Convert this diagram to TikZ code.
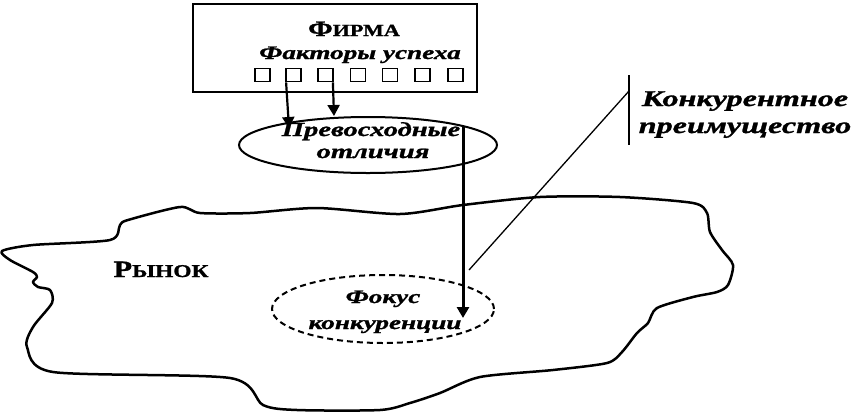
\documentclass[tikz,border=0pt]{standalone}
\usepackage{fontspec}
\setmainfont{Liberation Serif}
\newfontfamily\wideit[FakeStretch=1.43,FakeBold=1.3]{Liberation Serif}
\newfontfamily\widebf[FakeStretch=1.3,FakeBold=1.2]{Liberation Serif}
\usetikzlibrary{arrows.meta,shapes.geometric}
\begin{document}
\begin{tikzpicture}[x=1pt,y=-1pt,
  ital/.style={anchor=base, inner sep=0},
  caps/.style={anchor=base, inner sep=0},
  arr/.style={-{Triangle[length=11pt,width=12pt]}, line width=2.2pt},
  sqbox/.style={draw, line width=1.8pt, minimum width=15pt, minimum height=13pt, inner sep=0},
  ell/.style={ellipse, draw, line width=2pt, inner sep=0}
]
\useasboundingbox (0,0) rectangle (854,416);
\fill[white] (0,0) rectangle (854,416);
% market outline
\draw[line width=2.5pt, line join=round] plot[smooth cycle, tension=0.45] coordinates {
 (2,251) (33,245) (110,240) (120,225) (128,220) (180,207) (200,213) (250,213)
 (317,208) (400,214) (463,205) (540,197) (620,197) (693,203) (707,213) (710,232)
 (722,250) (733,265) (728,285) (717,292) (693,297) (657,308) (648,323) (637,333)
 (622,352) (607,363) (553,370) (480,377) (440,393) (410,403) (380,410) (297,410)
 (263,405) (230,378) (53,372) (27,347) (33,327) (52,303) (50,290) (38,287)
 (33,282) (37,277) (33,272) (10,260)};
% firm box
\node[draw, line width=2.5pt, minimum width=284pt, minimum height=88pt, inner sep=0] (firm) at (335,48) {};
\node[caps] (firmt) at (354,36) {\widebf\bfseries{\fontsize{22}{22}\selectfont Ф}{\fontsize{17}{17}\selectfont ИРМА}};
\node[ital, font=\wideit\bfseries\itshape\fontsize{19}{19}\selectfont] (fact) at (360,59) {Факторы успеха};
\foreach \i/\x in {1/262.5,2/293.5,3/325.5,4/358,5/390,6/422.5,7/455.5}
  \node[sqbox] (sq\i) at (\x,75) {};
% superior differences
\node[ell, minimum width=258pt, minimum height=56pt] (prev) at (368,145) {};
\node[ital, font=\wideit\bfseries\itshape\fontsize{20}{20}\selectfont] (prevt1) at (371,136) {Превосходные};
\node[ital, font=\wideit\bfseries\itshape\fontsize{20}{20}\selectfont] (prevt2) at (373,158) {отличия};
% focus of competition
\node[ell, dashed, dash pattern=on 6pt off 4pt, minimum width=222pt, minimum height=68pt] (focus) at (383,309) {};
\node[ital, font=\wideit\bfseries\itshape\fontsize{19}{19}\selectfont] (foct1) at (383,303) {Фокус};
\node[ital, font=\wideit\bfseries\itshape\fontsize{19}{19}\selectfont] (foct2) at (385,329) {конкуренции};
% market label
\node[caps] (market) at (161,277) {\widebf\bfseries{\fontsize{23.5}{23.5}\selectfont Р}{\fontsize{18}{18}\selectfont ЫНОК}};
% competitive advantage
\node[ital, font=\wideit\bfseries\itshape\fontsize{22.5}{22.5}\selectfont] (adv1) at (745,106) {Конкурентное};
\node[ital, font=\wideit\bfseries\itshape\fontsize{22.5}{22.5}\selectfont] (adv2) at (745,133) {преимущество};
\coordinate (bartop) at (629,75);
\coordinate (barbot) at (629,145);
\coordinate (barmid) at (629,91);
\coordinate (diagend) at (469,270);
\draw[line width=2.2pt] (bartop) -- (barbot);
\draw[line width=1.3pt] (diagend) -- (barmid);
% arrows
\coordinate (a1s) at (sq2.south west);
\coordinate (a1e) at (289,128);
\coordinate (a2s) at (sq3.south east);
\coordinate (a2e) at (334,116);
\draw[arr] ([xshift=1pt]a1s) -- (a1e);
\draw[arr] ([xshift=-1pt]a2s) -- (a2e);
\coordinate (a3s) at (463,127);
\coordinate (a3e) at (463,318);
\draw[arr, line width=3pt] (a3s) -- (a3e);
\end{tikzpicture}
\end{document}
